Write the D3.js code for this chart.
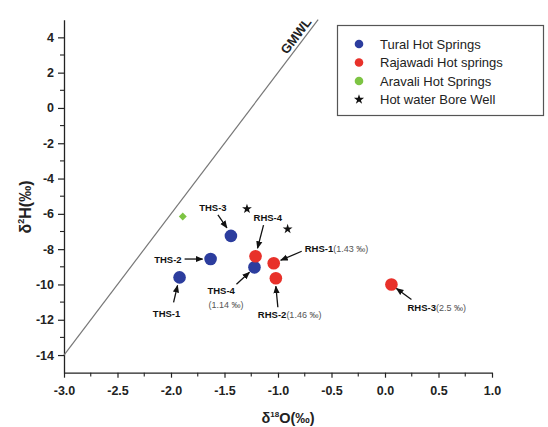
<!DOCTYPE html>
<html><head><meta charset="utf-8">
<script src="https://cdn.jsdelivr.net/npm/d3@7"></script>
<style>body{margin:0;background:#fff}svg{display:block;font-family:"Liberation Sans",Arial,sans-serif}</style>
</head><body><svg id="c" width="548" height="427"></svg>
<script>
// ---- data ----
const seriesNames = ["Tural Hot Springs", "Rajawadi Hot springs", "Aravali Hot Springs", "Hot water Bore Well"];
const turalLabels = ["THS-1", "THS-2", "THS-3", "THS-4"];
const turalO = [-1.92, -1.63, -1.44, -1.22];
const turalH = [-9.6, -8.56, -7.25, -9.03];
const rajaLabels = ["RHS-1", "RHS-2", "RHS-3", "RHS-4"];
const rajaO = [-1.04, -1.02, 0.06, -1.21];
const rajaH = [-8.8, -9.65, -10.0, -8.4];
const aravaliO = [-1.89];
const aravaliH = [-6.15];
const boreO = [-1.29, -0.91];
const boreH = [-5.72, -6.86];
const labelNotes = {"THS-4": "(1.14 ‰)", "RHS-1": "(1.43 ‰)", "RHS-2": "(1.46 ‰)", "RHS-3": "(2.5 ‰)"};
const xTicks = [-3.0, -2.5, -2.0, -1.5, -1.0, -0.5, 0.0, 0.5, 1.0];
const yTicks = [-14, -12, -10, -8, -6, -4, -2, 0, 2, 4];
const gmwlO = [-3.0, -0.625]; // GMWL: dH = 8*dO + 10

// ---- layout ----
const colors = ["#2c3d9e", "#e8312a", "#7dc443", "#111"];
const svg = d3.select("#c");
const x = d3.scaleLinear().domain([-3, 1]).range([64, 492]);
const y = d3.scaleLinear().domain([-15, 5]).range([372.7, 19.7]);
const hy = s => s.replace("−", "-");

// axes
const xAxis = d3.axisBottom(x).tickValues(xTicks).tickFormat(d => hy(d3.format(".1f")(d))).tickSize(5).tickSizeOuter(0);
const gx = svg.append("g").attr("transform", "translate(0,372.7)").call(xAxis);
const yAxis = d3.axisLeft(y).tickValues(yTicks).tickFormat(d => hy(String(d))).tickSize(6).tickSizeOuter(0);
const gy = svg.append("g").attr("transform", "translate(64,0)").call(yAxis);
[gx, gy].forEach(g => {
  g.select(".domain").attr("stroke", "#222").attr("stroke-width", 1.3);
  g.selectAll(".tick line").attr("stroke", "#222").attr("stroke-width", 1.2);
  g.selectAll(".tick text").attr("fill", "#222").attr("font-size", 12.5).attr("font-family", "Liberation Sans, Arial").attr("font-weight", "bold");
});
gx.selectAll(".tick text").attr("dy", "1.15em");
gy.selectAll(".tick text").attr("dx", "-1px");
// minor ticks
svg.append("g").selectAll("line").data(d3.range(-2.75, 1, 0.5)).join("line")
  .attr("x1", d => x(d)).attr("x2", d => x(d)).attr("y1", 372.7).attr("y2", 376.5)
  .attr("stroke", "#222").attr("stroke-width", 1.1);
svg.append("g").selectAll("line").data(d3.range(-15, 5, 2).slice(1)).join("line")
  .attr("x1", 64).attr("x2", 60).attr("y1", d => y(d)).attr("y2", d => y(d))
  .attr("stroke", "#222").attr("stroke-width", 1.1);

// axis titles
const xt = svg.append("text").attr("x", 288).attr("y", 423).attr("text-anchor", "middle")
  .attr("font-size", 14.5).attr("font-weight", "bold").attr("fill", "#222");
xt.append("tspan").text("δ");
xt.append("tspan").attr("font-size", 8).attr("dy", -6).text("18");
xt.append("tspan").attr("dy", 6).text("O(‰)");
const yt = svg.append("text").attr("transform", "translate(31,207) rotate(-90)").attr("text-anchor", "middle")
  .attr("font-size", 16).attr("font-weight", "bold").attr("fill", "#222");
yt.append("tspan").text("δ");
yt.append("tspan").attr("font-size", 9).attr("dy", -7).text("2");
yt.append("tspan").attr("dy", 7).text("H(‰)");

// GMWL
svg.append("line").attr("x1", x(gmwlO[0])).attr("y1", y(8 * gmwlO[0] + 10))
  .attr("x2", x(gmwlO[1])).attr("y2", y(8 * gmwlO[1] + 10))
  .attr("stroke", "#777").attr("stroke-width", 1.2);
const ang = Math.atan2(y(8 * gmwlO[1] + 10) - y(8 * gmwlO[0] + 10), x(gmwlO[1]) - x(gmwlO[0])) * 180 / Math.PI;
svg.append("text").attr("transform", `translate(${x(-0.78) - 2},${y(8 * -0.78 + 10) - 3}) rotate(${ang})`)
  .attr("text-anchor", "middle").attr("font-size", 13).attr("font-weight", "bold").attr("fill", "#222").text("GMWL");

// arrow marker
svg.append("defs").append("marker").attr("id", "ah").attr("viewBox", "0 0 10 10").attr("refX", 9).attr("refY", 5)
  .attr("markerWidth", 6).attr("markerHeight", 6).attr("orient", "auto")
  .append("path").attr("d", "M0,1 L10,5 L0,9 z").attr("fill", "#111");

// annotation layout: text position / arrow tail / arrow head as pixel offsets from the point
const annot = {
  "THS-1": {t: [-13, 40, "middle"], a: [-6, 25], h: [-2, 8]},
  "THS-2": {t: [-29, 4, "end"], a: [-26, 0], h: [-8, 0]},
  "THS-3": {t: [-18, -25, "middle"], a: [-13, -21], h: [-4, -8]},
  "THS-4": {t: [-47, 27, "start"], a: [-18, 17], h: [-5, 5]},
  "RHS-1": {t: [31, -11, "start"], a: [28, -12], h: [7, -3]},
  "RHS-2": {t: [-18, 40, "start"], a: [2, 29], h: [0, 8]},
  "RHS-3": {t: [16, 27, "start"], a: [20, 15], h: [5, 4]},
  "RHS-4": {t: [-2, -35, "start"], a: [8, -31], h: [2, -8]}
};
function annotate(lbl, px, py) {
  const c = annot[lbl];
  svg.append("line").attr("x1", px + c.a[0]).attr("y1", py + c.a[1]).attr("x2", px + c.h[0]).attr("y2", py + c.h[1])
    .attr("stroke", "#111").attr("stroke-width", 1.3).attr("marker-end", "url(#ah)");
  const note = labelNotes[lbl];
  const t = svg.append("text").attr("x", px + c.t[0]).attr("y", py + c.t[1]).attr("text-anchor", c.t[2])
    .attr("font-size", 9.5).attr("fill", "#111");
  t.append("tspan").attr("font-weight", "bold").text(lbl);
  if (note) {
    if (lbl === "THS-4") {
      svg.append("text").attr("x", px + c.t[0] + 1).attr("y", py + c.t[1] + 14).attr("font-size", 9).attr("fill", "#555").text(note);
    } else {
      t.append("tspan").attr("fill", "#555").attr("font-size", 9).text(note);
    }
  }
}

const r = 6.3;
turalO.forEach((o, i) => {
  svg.append("circle").attr("cx", x(o)).attr("cy", y(turalH[i])).attr("r", r).attr("fill", colors[0]);
  annotate(turalLabels[i], x(o), y(turalH[i]));
});
rajaO.forEach((o, i) => {
  svg.append("circle").attr("cx", x(o)).attr("cy", y(rajaH[i])).attr("r", r).attr("fill", colors[1]);
  annotate(rajaLabels[i], x(o), y(rajaH[i]));
});
aravaliO.forEach((o, i) => {
  svg.append("path").attr("transform", `translate(${x(o)},${y(aravaliH[i])})`)
    .attr("d", d3.symbol(d3.symbolDiamond2, 40)()).attr("fill", colors[2]);
});
boreO.forEach((o, i) => {
  svg.append("path").attr("transform", `translate(${x(o)},${y(boreH[i])})`)
    .attr("d", d3.symbol(d3.symbolStar, 30)()).attr("fill", colors[3]);
});

// legend
const lg = svg.append("g");
lg.append("rect").attr("x", 337.5).attr("y", 25.5).attr("width", 206).attr("height", 90)
  .attr("fill", "#fff").attr("stroke", "#555").attr("stroke-width", 1.2);
seriesNames.forEach((n, i) => {
  const yy = 44 + i * 18.5;
  if (i < 3) lg.append("circle").attr("cx", 359).attr("cy", yy).attr("r", 4.3).attr("fill", colors[i]);
  else lg.append("path").attr("transform", `translate(359,${yy})`).attr("d", d3.symbol(d3.symbolStar, 32)()).attr("fill", colors[3]);
  lg.append("text").attr("x", 380).attr("y", yy + 4.5).attr("font-size", 13).attr("fill", "#222").text(n);
});
</script></body></html>
